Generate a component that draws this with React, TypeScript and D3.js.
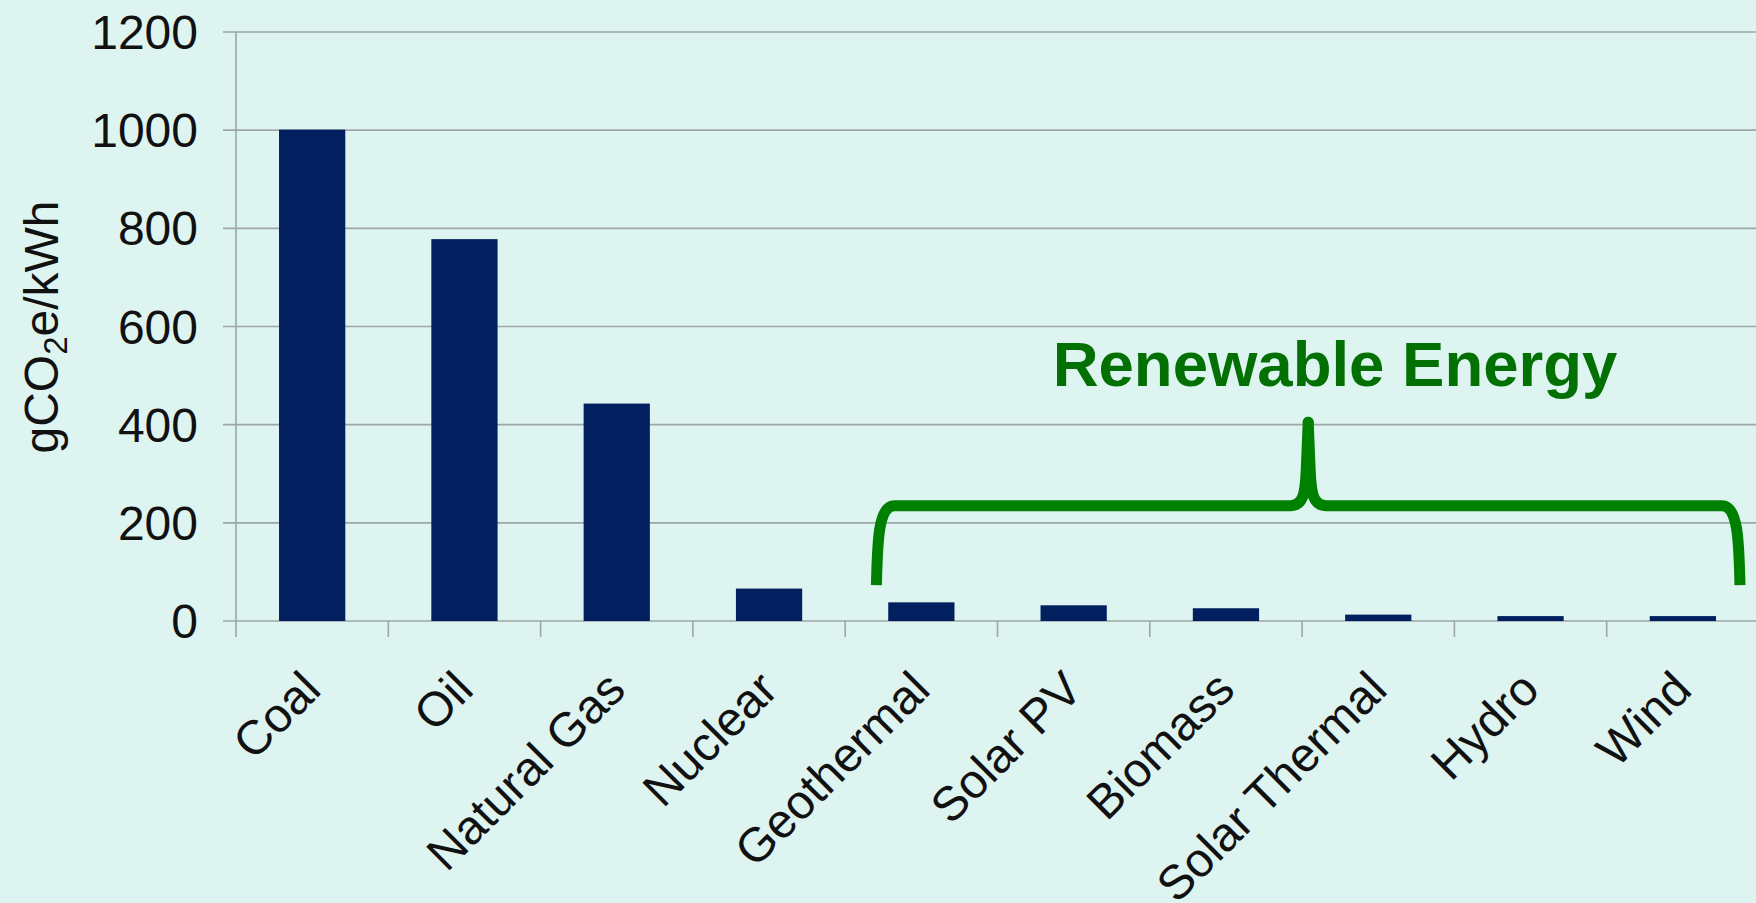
import React from "react";
import * as d3 from "d3";

// Life-cycle greenhouse gas intensity by generation source (gCO2e per kWh)
const categories: string[] = [
  "Coal",
  "Oil",
  "Natural Gas",
  "Nuclear",
  "Geothermal",
  "Solar PV",
  "Biomass",
  "Solar Thermal",
  "Hydro",
  "Wind",
];
const emissions: number[] = [1001, 778, 443, 66, 38, 32, 26, 13, 10, 10];
const yTicks: number[] = [0, 200, 400, 600, 800, 1000, 1200];
const renewableGroup: string[] = ["Geothermal", "Wind"];
const groupLabel = "Renewable Energy";

const W = 1756;
const H = 903;
const FONT = "'Liberation Sans', Arial, Helvetica, sans-serif";

export default function App() {
  const left = 236;
  const step = 152.3;
  const x = d3
    .scaleBand<string>()
    .domain(categories)
    .range([left, left + step * categories.length])
    .paddingInner(0)
    .paddingOuter(0);
  const y = d3.scaleLinear().domain([0, 1200]).range([621, 32]);

  const bw = x.bandwidth();
  const barW = bw * 0.435;
  const baseY = y(0);

  // bracket spanning the renewable sources
  const bx0 = (x(renewableGroup[0]) as number) + bw * 0.205;
  const bx1 = (x(renewableGroup[1]) as number) + bw * 0.875;
  const bMid = (bx0 + bx1) / 2;
  const bBottom = y(73);
  const bBar = y(235);
  const bTip = y(405);
  const bracePath = [
    `M${bx0},${bBottom}`,
    `C${bx0 + 1},${bBar + 35} ${bx0 + 2},${bBar} ${bx0 + 18},${bBar}`,
    `L${bMid - 18},${bBar}`,
    `C${bMid - 5},${bBar} ${bMid - 3},${bBar - 12} ${bMid - 2},${bBar - 35}`,
    `L${bMid},${bTip}`,
    `L${bMid + 2},${bBar - 35}`,
    `C${bMid + 3},${bBar - 12} ${bMid + 5},${bBar} ${bMid + 18},${bBar}`,
    `L${bx1 - 18},${bBar}`,
    `C${bx1 - 2},${bBar} ${bx1 - 1},${bBar + 35} ${bx1},${bBottom}`,
  ].join(" ");

  return (
    <svg
      width={W}
      height={H}
      style={{ position: "absolute", left: 0, top: 0, display: "block" }}
      fontFamily={FONT}
    >
      <rect x={0} y={0} width={W} height={H} fill="#ddf4f1" />

      {/* horizontal gridlines with outside tick stubs */}
      {yTicks.map((t) => (
        <line
          key={`g${t}`}
          x1={left - 13}
          x2={W}
          y1={y(t)}
          y2={y(t)}
          stroke="#9ea6a6"
          strokeWidth={1.6}
        />
      ))}
      {/* y axis line */}
      <line x1={left} x2={left} y1={y(1200)} y2={baseY} stroke="#9ea6a6" strokeWidth={1.6} />

      {/* y tick labels */}
      {yTicks.map((t) => (
        <text
          key={`l${t}`}
          x={198}
          y={y(t) + 17}
          textAnchor="end"
          fontSize={48}
          fill="#111"
        >
          {t}
        </text>
      ))}

      {/* category boundary ticks */}
      {categories.map((c) => (
        <line
          key={`t${c}`}
          x1={x(c) as number}
          x2={x(c) as number}
          y1={baseY}
          y2={baseY + 16}
          stroke="#9ea6a6"
          strokeWidth={1.6}
        />
      ))}

      {/* bars */}
      {categories.map((c, i) => (
        <rect
          key={`b${c}`}
          x={(x(c) as number) + (bw - barW) / 2}
          y={y(emissions[i])}
          width={barW}
          height={baseY - y(emissions[i])}
          fill="#02205f"
        />
      ))}

      {/* rotated category labels */}
      {categories.map((c) => {
        const cx = (x(c) as number) + bw / 2 + 11;
        const cy = baseY + 71;
        return (
          <text
            key={`c${c}`}
            transform={`translate(${cx},${cy}) rotate(-45)`}
            textAnchor="end"
            fontSize={48}
            fill="#111"
          >
            {c}
          </text>
        );
      })}

      {/* y axis title */}
      <text
        transform={`translate(58,327) rotate(-90)`}
        textAnchor="middle"
        fontSize={48}
        fill="#111"
      >
        gCO
        <tspan fontSize={33} dy={9}>
          2
        </tspan>
        <tspan dy={-9}>e/kWh</tspan>
      </text>

      {/* renewable bracket and label */}
      <path
        d={bracePath}
        fill="none"
        stroke="#008000"
        strokeWidth={11}
        strokeLinejoin="round"
        strokeLinecap="butt"
      />
      <circle cx={bMid} cy={bTip} r={5.5} fill="#008000" />
      <text
        x={1335}
        y={386}
        textAnchor="middle"
        fontSize={63.5}
        fontWeight="bold"
        fill="#037003"
      >
        {groupLabel}
      </text>
    </svg>
  );
}
